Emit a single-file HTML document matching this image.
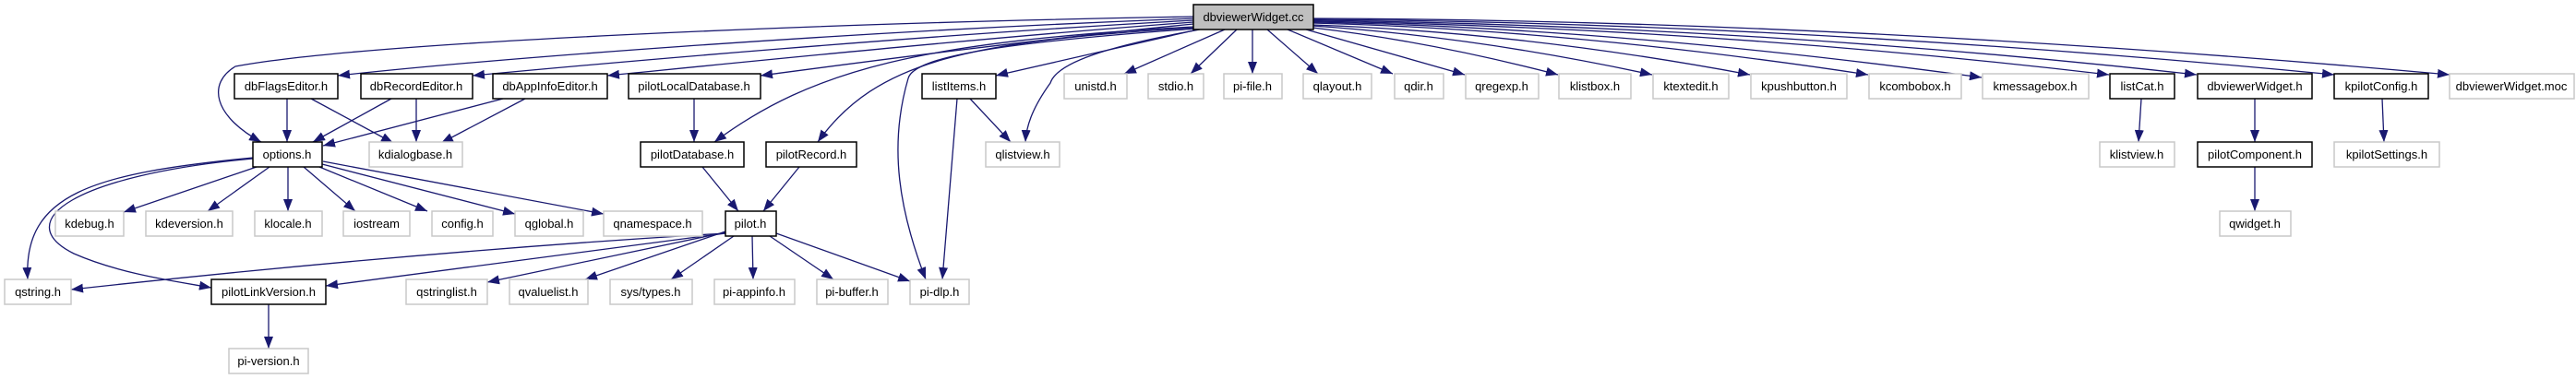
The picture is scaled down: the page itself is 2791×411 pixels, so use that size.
<!DOCTYPE html>
<html><head><meta charset="utf-8"><style>
html,body{margin:0;padding:0;background:#fff;width:2791px;height:411px;overflow:hidden}
svg{display:block}
text{font-family:"Liberation Sans",Arial,sans-serif;font-size:13px;fill:#000;text-anchor:middle}
.b{fill:#fff;stroke:#000;stroke-width:1.5}
.g{fill:#fff;stroke:#c8c8c8;stroke-width:1.5}
.r{fill:#bfbfbf;stroke:#000;stroke-width:1.5}
path.e{fill:none;stroke:#191970;stroke-width:1.3;marker-end:url(#a)}
</style></head><body>
<svg width="2791" height="411" viewBox="0 0 2791 411" xmlns="http://www.w3.org/2000/svg">
<defs><marker id="a" markerUnits="userSpaceOnUse" markerWidth="13" markerHeight="10" refX="13" refY="5" orient="auto"><path d="M0,0 L13,5 L0,10 z" fill="#191970"/></marker></defs>

<!-- edges from root -->
<path class="e" d="M1293,18 C900,25 400,45 255,72 C225,90 230,125 283,154"/>
<path class="e" d="M1293,20 C900,35 520,65 366,82"/>
<path class="e" d="M1293,22 C1000,38 660,68 512,82"/>
<path class="e" d="M1293,24 C1050,42 760,72 658,82"/>
<path class="e" d="M1293,26 C1100,45 900,72 824,82"/>
<path class="e" d="M1294,29 C1000,45 880,75 774,154"/>
<path class="e" d="M1295,30 C1050,45 950,65 886,154"/>
<path class="e" d="M1297,31 C1100,45 990,60 984,85 C962,160 975,230 1003,303"/>
<path class="e" d="M1298,32 C1200,55 1120,72 1079,82"/>
<path class="e" d="M1300,32 C1200,50 1145,68 1138,90 C1120,115 1112,135 1111,154"/>
<path class="e" d="M1327,32 L1218,80"/>
<path class="e" d="M1340,32 L1290,80"/>
<path class="e" d="M1357,32 L1357,80"/>
<path class="e" d="M1373,32 L1428,80"/>
<path class="e" d="M1395,32 L1509,80"/>
<path class="e" d="M1415,32 L1587,81"/>
<path class="e" d="M1422,30 Q1550,45 1688,81"/>
<path class="e" d="M1422,28 Q1600,40 1790,81"/>
<path class="e" d="M1422,27 Q1650,35 1896,81"/>
<path class="e" d="M1422,25 Q1700,32 2024,81"/>
<path class="e" d="M1422,24 Q1750,30 2147,84"/>
<path class="e" d="M1422,23 Q1850,30 2285,81"/>
<path class="e" d="M1422,22 Q1900,28 2380,81"/>
<path class="e" d="M1422,21 Q1950,25 2529,81"/>
<path class="e" d="M1422,20 Q2000,22 2654,81"/>

<!-- row1 -> row2 -->
<path class="e" d="M311,107 L311,154"/>
<path class="e" d="M337,107 L426,155"/>
<path class="e" d="M424,107 L339,154"/>
<path class="e" d="M451,107 L451,154"/>
<path class="e" d="M545,107 L350,158"/>
<path class="e" d="M569,107 L478,155"/>
<path class="e" d="M752,107 L752,154"/>
<path class="e" d="M1051,107 L1095,154"/>
<path class="e" d="M1037,107 L1021,303"/>
<path class="e" d="M2320,107 L2317,154"/>
<path class="e" d="M2443,107 L2443,154"/>
<path class="e" d="M2581,107 L2583,154"/>
<path class="e" d="M2443,181 L2443,229"/>

<!-- options -> -->
<path class="e" d="M278,181 L134,230"/>
<path class="e" d="M292,181 L225,229"/>
<path class="e" d="M312,181 L312,229"/>
<path class="e" d="M329,181 L385,229"/>
<path class="e" d="M346,181 L463,229"/>
<path class="e" d="M349,178 L558,232"/>
<path class="e" d="M350,175 L654,232"/>
<path class="e" d="M274,171 C100,188 25,210 30,303"/>
<path class="e" d="M274,172 C80,190 10,240 80,275 C130,297 190,305 229,312"/>
<path class="e" d="M761,181 L800,229"/>
<path class="e" d="M866,181 L827,229"/>

<!-- pilot.h -> -->
<path class="e" d="M786,253 C500,270 250,295 77,314"/>
<path class="e" d="M786,253 L353,310"/>
<path class="e" d="M786,252 L528,306"/>
<path class="e" d="M786,251 L634,303"/>
<path class="e" d="M795,256 L727,303"/>
<path class="e" d="M815,256 L816,303"/>
<path class="e" d="M834,256 L903,303"/>
<path class="e" d="M841,253 L986,305"/>
<path class="e" d="M291,330 L291,378"/>

<!-- nodes -->
<rect class="r" x="1293" y="5" width="130" height="27"/><text x="1358" y="23">dbviewerWidget.cc</text>

<rect class="b" x="254" y="80" width="112" height="27"/><text x="310" y="98">dbFlagsEditor.h</text>
<rect class="b" x="391" y="80" width="121" height="27"/><text x="451" y="98">dbRecordEditor.h</text>
<rect class="b" x="534" y="80" width="124" height="27"/><text x="596" y="98">dbAppInfoEditor.h</text>
<rect class="b" x="681" y="80" width="143" height="27"/><text x="752" y="98">pilotLocalDatabase.h</text>
<rect class="b" x="999" y="80" width="80" height="27"/><text x="1039" y="98">listItems.h</text>
<rect class="g" x="1153" y="80" width="68" height="27"/><text x="1187" y="98">unistd.h</text>
<rect class="g" x="1244" y="80" width="60" height="27"/><text x="1274" y="98">stdio.h</text>
<rect class="g" x="1326" y="80" width="63" height="27"/><text x="1357" y="98">pi-file.h</text>
<rect class="g" x="1412" y="80" width="74" height="27"/><text x="1449" y="98">qlayout.h</text>
<rect class="g" x="1511" y="80" width="53" height="27"/><text x="1537" y="98">qdir.h</text>
<rect class="g" x="1588" y="80" width="79" height="27"/><text x="1627" y="98">qregexp.h</text>
<rect class="g" x="1689" y="80" width="78" height="27"/><text x="1728" y="98">klistbox.h</text>
<rect class="g" x="1791" y="80" width="82" height="27"/><text x="1832" y="98">ktextedit.h</text>
<rect class="g" x="1897" y="80" width="104" height="27"/><text x="1949" y="98">kpushbutton.h</text>
<rect class="g" x="2025" y="80" width="100" height="27"/><text x="2075" y="98">kcombobox.h</text>
<rect class="g" x="2148" y="80" width="115" height="27"/><text x="2205" y="98">kmessagebox.h</text>
<rect class="b" x="2286" y="80" width="70" height="27"/><text x="2321" y="98">listCat.h</text>
<rect class="b" x="2381" y="80" width="124" height="27"/><text x="2443" y="98">dbviewerWidget.h</text>
<rect class="b" x="2529" y="80" width="102" height="27"/><text x="2580" y="98">kpilotConfig.h</text>
<rect class="g" x="2654" y="80" width="135" height="27"/><text x="2721" y="98">dbviewerWidget.moc</text>

<rect class="b" x="274" y="154" width="75" height="27"/><text x="311" y="172">options.h</text>
<rect class="g" x="400" y="154" width="101" height="27"/><text x="450" y="172">kdialogbase.h</text>
<rect class="b" x="694" y="154" width="112" height="27"/><text x="750" y="172">pilotDatabase.h</text>
<rect class="b" x="830" y="154" width="98" height="27"/><text x="879" y="172">pilotRecord.h</text>
<rect class="g" x="1068" y="154" width="80" height="27"/><text x="1108" y="172">qlistview.h</text>
<rect class="g" x="2275" y="154" width="81" height="27"/><text x="2315" y="172">klistview.h</text>
<rect class="b" x="2381" y="154" width="124" height="27"/><text x="2443" y="172">pilotComponent.h</text>
<rect class="g" x="2529" y="154" width="114" height="27"/><text x="2586" y="172">kpilotSettings.h</text>

<rect class="g" x="60" y="229" width="74" height="27"/><text x="97" y="247">kdebug.h</text>
<rect class="g" x="158" y="229" width="94" height="27"/><text x="205" y="247">kdeversion.h</text>
<rect class="g" x="276" y="229" width="73" height="27"/><text x="312" y="247">klocale.h</text>
<rect class="g" x="372" y="229" width="72" height="27"/><text x="408" y="247">iostream</text>
<rect class="g" x="468" y="229" width="66" height="27"/><text x="501" y="247">config.h</text>
<rect class="g" x="558" y="229" width="74" height="27"/><text x="595" y="247">qglobal.h</text>
<rect class="g" x="654" y="229" width="107" height="27"/><text x="707" y="247">qnamespace.h</text>
<rect class="b" x="786" y="229" width="55" height="27"/><text x="813" y="247">pilot.h</text>
<rect class="g" x="2405" y="229" width="77" height="27"/><text x="2443" y="247">qwidget.h</text>

<rect class="g" x="5" y="303" width="72" height="27"/><text x="41" y="321">qstring.h</text>
<rect class="b" x="229" y="303" width="124" height="27"/><text x="291" y="321">pilotLinkVersion.h</text>
<rect class="g" x="440" y="303" width="88" height="27"/><text x="484" y="321">qstringlist.h</text>
<rect class="g" x="552" y="303" width="85" height="27"/><text x="594" y="321">qvaluelist.h</text>
<rect class="g" x="661" y="303" width="89" height="27"/><text x="705" y="321">sys/types.h</text>
<rect class="g" x="774" y="303" width="87" height="27"/><text x="817" y="321">pi-appinfo.h</text>
<rect class="g" x="885" y="303" width="77" height="27"/><text x="923" y="321">pi-buffer.h</text>
<rect class="g" x="986" y="303" width="64" height="27"/><text x="1018" y="321">pi-dlp.h</text>

<rect class="g" x="248" y="378" width="86" height="27"/><text x="291" y="396">pi-version.h</text>
</svg>
</body></html>
